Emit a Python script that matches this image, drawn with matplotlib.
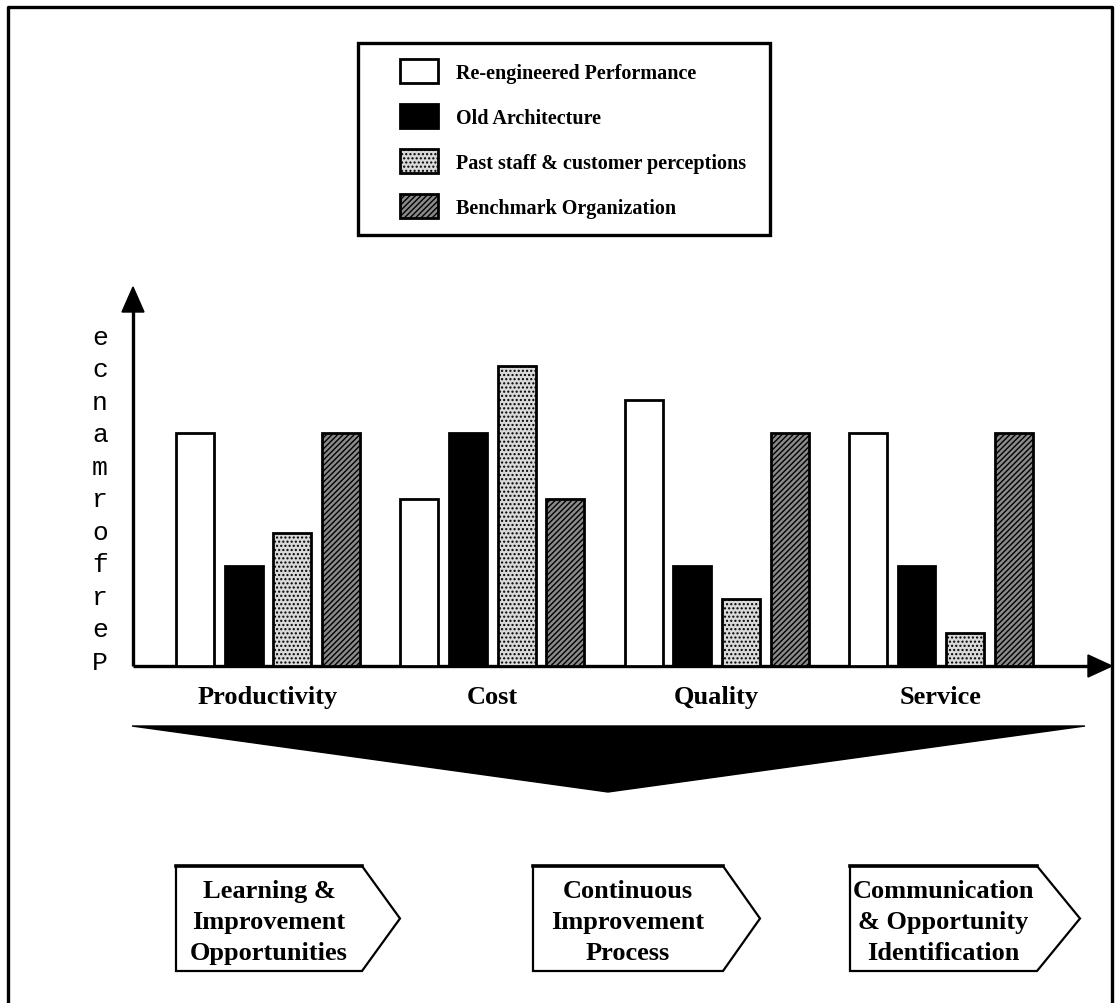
import matplotlib.pyplot as plt
from matplotlib.patches import Polygon, Rectangle
from matplotlib.font_manager import FontProperties

# chart data
categories = ['Productivity', 'Cost', 'Quality', 'Service']
series = ['Re-engineered Performance', 'Old Architecture',
          'Past staff & customer perceptions', 'Benchmark Organization']
reengineered = [7, 5, 8, 7]
old_architecture = [3, 7, 3, 3]
past_perceptions = [4, 9, 2, 1]
benchmark = [7, 5, 7, 7]
stages = ['Learning &\nImprovement\nOpportunities',
          'Continuous\nImprovement\nProcess',
          'Communication\n& Opportunity\nIdentification']
ylabel = 'Performance'

W, H = 1116, 1004
plt.rcParams['hatch.linewidth'] = 1.0
serif_bold = FontProperties(family='Liberation Serif', weight='bold', size=19)

fig = plt.figure(figsize=(W / 100, H / 100), dpi=100)

# background axes in pixel units for the decorations
bg = fig.add_axes([0, 0, 1, 1])
bg.set_xlim(0, W)
bg.set_ylim(H, 0)
bg.axis('off')

# outer frame (open at the bottom, cut off in the original)
bg.plot([8, 8, 1112, 1112], [H + 5, 8, 8, H + 5], color='black', lw=2.4)

# bar axes
x0, x1, y0, y1 = 133, 1112, 667, 288
ax = fig.add_axes([x0 / W, 1 - y0 / H, (x1 - x0) / W, (y0 - y1) / H])
ax.set_xlim(-0.602, 3.763)
ax.set_ylim(0, 11.38)
ax.patch.set_alpha(0)
for s in ax.spines.values():
    s.set_visible(False)
ax.set_yticks([])

step = 0.217
width = 0.169
styles = [
    dict(facecolor='white', edgecolor='black', hatch=None),
    dict(facecolor='black', edgecolor='black', hatch=None),
    dict(facecolor='#d9d9d9', edgecolor='black', hatch='....'),
    dict(facecolor='#8a8a8a', edgecolor='black', hatch='//////'),
]
values = [reengineered, old_architecture, past_perceptions, benchmark]
handles = []
for k, (vals, st) in enumerate(zip(values, styles)):
    xs = [i + (k - 1.5) * step for i in range(len(categories))]
    b = ax.bar(xs, vals, width=width, linewidth=2.0, label=series[k], **st)
    handles.append(b)

ax.set_xticks(range(len(categories)))
ax.set_xticklabels(categories, fontproperties=serif_bold)
ax.tick_params(axis='x', length=0, pad=14)

# axis arrows
bg.plot([x0, x0], [y0, 305], color='black', lw=2.4, solid_capstyle='butt')
bg.add_patch(Polygon([(122, 313), (144, 313), (133, 288)], closed=True, fc='black', ec='black'))
bg.plot([x0, 1092], [y0, y0], color='black', lw=2.4, solid_capstyle='butt')
bg.add_patch(Polygon([(1088, 656), (1088, 678), (1112, 667)], closed=True, fc='black', ec='black'))

# stacked y label (bottom to top spells the word)
for j, ch in enumerate(ylabel):
    bg.text(100, 663 - j * 32.5, ch, family='Liberation Mono', size=19,
            ha='center', va='center', color='black')

# legend box drawn by hand, entries placed inside it
bg.add_patch(Rectangle((358, 44), 412, 192, fill=False, lw=2.4, ec='black'))
leg = fig.legend(handles=handles, labels=series, loc='upper left',
                 bbox_to_anchor=(400 / W, 1 - 60 / H), frameon=False,
                 borderaxespad=0, borderpad=0,
                 prop=FontProperties(family='Liberation Serif', weight='bold', size=14.5),
                 handlelength=1.9, handleheight=1.45, labelspacing=1.05,
                 handletextpad=0.9)

# funnel
bg.add_patch(Polygon([(132, 727), (1085, 727), (608, 793)], closed=True,
                     fc='black', ec='black', lw=1))

# process boxes
boxes = [(176, 362, 400), (533, 723, 760), (850, 1037, 1080)]
top, bot = 867, 972
for (l, d, t), label in zip(boxes, stages):
    bg.add_patch(Polygon([(l, top), (d, top), (t, (top + bot) / 2), (d, bot), (l, bot)],
                         closed=True, fill=False, ec='black', lw=1.6))
    bg.plot([l, d], [top, top], color='black', lw=2.6)
    bg.text((l + d) / 2, (top + bot) / 2 + 3, label, fontproperties=serif_bold,
            ha='center', va='center', linespacing=1.45)

fig.savefig('out.png', dpi=100)
